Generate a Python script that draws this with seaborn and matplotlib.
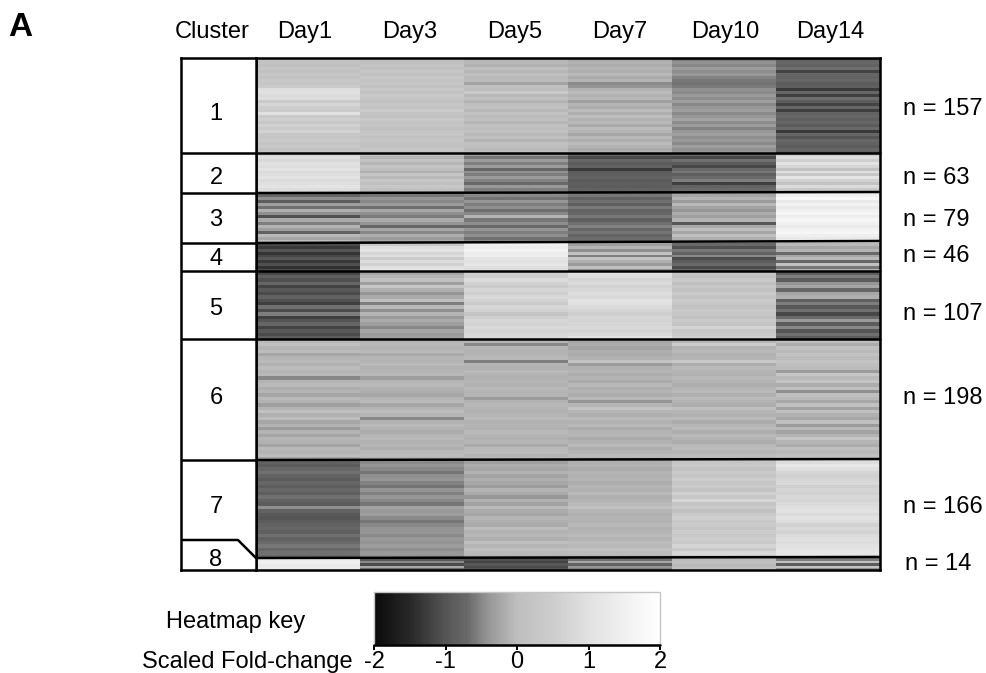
import numpy as np
import pandas as pd
import seaborn as sns
import matplotlib.pyplot as plt
from matplotlib.colors import LinearSegmentedColormap

days = ["Day1", "Day3", "Day5", "Day7", "Day10", "Day14"]
cluster_ids = ["1", "2", "3", "4", "5", "6", "7", "8"]
cluster_n = [157, 63, 79, 46, 107, 198, 166, 14]

# values, one list per day, top to bottom in each cluster
cluster1 = [
    [.10, .18, .05, .22, .10, .28, .15, .32, .22, .38, .92, .98, .85, .92, .42, .72, .50, .45, 1.0, .40, .55, .30, .58, .35, .62, .30, .25, .38, .20, .32, .15, .25],
    [.02, .10, .20, .05, .25, .12, .30, .18, .28, .10, .32, .15, .35, .22, .12, .30, .18, .38, .20, .10, .32, .16, .28, .08, .22, .30, .12, .24, .18, .10, .26, .14],
    [-.10, -.05, -.12, .02, -.08, .05, -.05, -.02, -.28, .05, .00, .35, -.05, .08, -.10, .02, .10, -.05, .12, -.02, .05, -.08, .10, .00, .14, -.06, .05, -.10, .10, .02, -.04, .08],
    [-.22, -.12, -.18, -.08, -.15, -.05, -.20, -.10, -.48, -.42, -.12, -.02, -.14, -.05, -.30, -.08, -.18, -.02, -.15, .00, -.12, -.05, -.20, -.02, -.10, -.22, -.06, -.16, -.02, -.12, -.20, -.08],
    [-.58, -.43, -.50, -.33, -.46, -.38, -.53, -.60, -.63, -.58, -.43, -.48, -.36, -.46, -.30, -.50, -.38, -.32, -.48, -.40, -.28, -.46, -.34, -.52, -.38, -.30, -.44, -.36, -.48, -.32, -.43, -.38],
    [-.85, -.72, -.80, -.66, -1.2, -.75, -.80, -.72, -.90, -.85, -1.3, -.75, -1.25, -.66, -.90, -1.2, -.75, -1.25, -.80, -.72, -.85, -.75, -.90, -.70, -1.3, -.75, -1.0, -.72, -.80, -.90, -.74, -.85],
]
cluster2 = [
    [.70, .95, .80, 1.0, .90, 1.05, .85, .95, 1.05, .85, .95, 1.1, .90, 1.0],
    [.05, -.10, .12, -.08, .20, .00, -.15, .22, -.05, .28, .05, .30, .10, .22],
    [-.40, -.60, -.35, -.55, -.33, -.75, -.43, -.57, -.35, -.53, -.70, -.37, -.55, -.45],
    [-.80, -1.1, -.75, -.90, -.80, -1.3, -.90, -.85, -.80, -.92, -.85, -.90, -.80, -.88],
    [-.70, -1.15, -.65, -.90, -1.15, -.70, -.60, -.85, -.70, -.55, -1.25, -.80, -.70, -.65],
    [.40, .90, .55, 1.05, .70, .15, .95, .30, 1.1, .60, .20, .85, .35, .55],
]
cluster3 = [
    [-.75, -.45, -.90, -.30, -.65, -.15, -.45, -1.05, -.20, -.55, -.10, -.30, -.80, -.05, -.25, .00],
    [-.60, -.40, -.50, -.33, -.67, -.25, -.45, -.57, -.20, -.40, -.75, -.25, -.50, -.17, -.35, -.25],
    [-.50, -.63, -.40, -.55, -.45, -.67, -.50, -.10, -.60, -.45, -.70, -.40, -.55, -.45, -.65, -.50],
    [-.60, -.80, -.65, -.85, -.58, -.80, -.72, -.60, -.85, -.65, -.52, -.75, -.62, -.78, -.68, -.60],
    [-.25, -.10, -.35, -.05, -.28, -.40, -.18, -.30, -.10, -.95, -.20, .00, -.25, .05, -.15, -.08],
    [1.5, 1.75, 1.3, 1.55, 1.25, 1.5, 1.65, 1.4, 1.7, 1.5, 1.3, 1.55, 1.7, 1.45, 1.25, 1.35],
]
cluster4 = [
    [-1.1, -1.3, -1.0, -1.35, -1.15, -.95, -1.3, -1.05, -1.4, -1.1],
    [.30, .90, 1.1, .70, .95, .45, .85, .60, 1.0, 1.25],
    [1.5, 1.35, 1.6, 1.4, 1.45, 1.1, 1.0, 1.2, .95, .90],
    [-.30, -.10, -.45, .10, -.55, .20, -.15, -.35, .05, -.45],
    [-.70, -1.05, -.60, -.80, -.50, -1.1, -.90, -.70, -1.1, -.75],
    [-.05, -.25, -.10, -.70, -.25, -.05, -.75, .10, -.60, -.10],
]
cluster5 = [
    [-1.15, -.85, -1.05, -.75, -1.2, -.95, -1.1, -.80, -1.05, -1.25, -.65, -1.1, -.55, -1.25, -1.0, -.75, -1.2, -.95, -1.1, -.90],
    [-.25, -.10, .10, -.30, .30, -.15, -.40, -.20, .05, -.55, -.05, -.45, -.10, -.35, -.20, -.30, -.50, -.25, -.35, -.30],
    [.55, .50, .85, .60, .45, .70, .55, .80, .62, .48, .72, .60, .20, .55, .75, .65, .80, .70, .78, .85],
    [1.0, .90, .70, .85, .65, .75, .90, .80, 1.05, 1.0, .85, .70, .55, .75, .65, .72, .80, .70, .85, 1.1],
    [.25, .10, .35, .05, .30, .15, .40, .20, .45, .30, .15, .35, .25, .10, .40, .20, .65, .30, .45, .60],
    [-.85, -.55, -.90, -.40, -.25, -.75, -.25, -.15, -.85, -.55, -.95, -.65, -1.15, -.70, -.35, -.90, -.50, -1.0, -.65, -.90],
]
cluster6 = [
    [-.05, .02, -.10, -.02, -.25, -.08, -.04, -.12, -.02, -.08, -.05, -.50, -.10, -.04, -.16, -.08, -.24, -.05, -.12, -.30, -.10, .05, -.14, -.02, -.25, -.12, -.35, -.10, -.24, -.08, -.14, -.26, -.05, -.10, -.02, -.25],
    [-.08, -.06, -.10, -.05, -.20, -.08, -.10, -.06, -.12, -.08, -.05, -.32, -.08, -.05, -.12, -.16, -.22, -.08, -.05, -.25, -.10, -.02, -.08, -.50, -.12, -.06, -.10, -.18, -.08, -.05, -.12, -.08, -.16, -.06, -.02, -.12],
    [-.10, -.50, -.08, -.12, -.10, -.06, -.55, -.08, -.12, -.06, -.10, -.14, -.08, -.12, -.06, -.10, -.08, -.35, -.12, -.06, -.10, -.14, -.08, -.04, -.11, -.08, -.14, -.06, -.10, -.12, -.08, -.20, -.06, -.02, -.10, -.06],
    [-.24, -.18, -.26, -.16, -.20, -.14, .20, -.35, -.14, -.08, -.18, -.10, -.20, -.06, -.16, -.10, -.18, -.06, -.40, -.08, .18, -.08, -.16, -.04, -.12, -.06, -.18, -.10, -.08, -.20, -.12, -.04, -.16, -.08, -.02, -.08],
    [-.08, .45, -.10, -.06, -.14, -.10, .35, -.16, -.06, -.08, -.14, -.06, -.10, -.16, -.08, -.06, -.14, -.04, -.10, -.16, .02, -.08, -.12, -.04, -.18, -.08, -.04, -.16, -.06, -.10, -.18, -.06, -.02, -.08, -.01, -.06],
    [.00, -.18, .10, -.06, .15, -.02, .20, .04, -.02, -.35, .25, -.06, .18, -.18, .06, -.45, .06, -.05, -.22, .10, -.28, .06, -.14, -.22, .06, -.35, -.05, -.28, -.10, .28, -.08, -.18, .06, -.05, .10, .00],
]
cluster7 = [
    [-.80, -.90, -.75, -.65, -.80, -.92, -.75, -.88, -.72, -.85, -.65, -.80, -.90, -.45, -.80, -.95, -1.0, -.90, -.80, -.75, -.85, -.65, -.80, -.70, -.60, -.75, -.65, -.70],
    [-.47, -.42, -.50, -.62, -.44, -.40, -.52, -.64, -.42, -.54, -.40, -.50, -.62, -.28, -.37, -.32, -.47, -.60, -.50, -.42, -.40, -.47, -.37, -.42, -.34, -.44, -.37, -.42],
    [-.30, -.18, -.25, -.12, -.28, -.15, -.22, -.35, -.10, -.20, -.38, -.12, -.28, -.05, -.18, -.25, -.08, -.15, -.20, -.02, -.12, -.05, -.15, .00, -.08, .05, -.05, -.10],
    [-.15, -.12, -.18, -.08, -.14, -.10, -.16, -.08, -.12, -.06, -.15, -.10, -.05, .08, -.08, -.14, -.10, -.12, -.06, -.14, -.08, -.04, -.10, -.02, -.06, .12, -.02, -.10],
    [.25, .35, .15, .40, .22, .50, .28, .42, .20, .60, .30, .72, .20, .45, .10, .35, .55, .30, .42, .25, .45, .32, .50, .38, .70, .35, .78, .30],
    [.90, 1.2, .95, .70, .60, .72, .80, .55, .70, .62, .78, .68, .85, .95, 1.0, .85, 1.05, .90, .60, .80, .65, .85, .95, .90, 1.0, 1.1, 1.2, .80],
]
cluster8 = [
    [1.35, 1.45, 1.3, 1.35],
    [-.95, -.5, -1.1, -.25, -.7],
    [-1.05, -1.2, -.95, -1.1, -1.0],
    [-.65, -.25, -.8, -.4, -.55],
    [-.02, .05, -.05, .02],
    [-.55, .10, -.9, .20, -.45],
]
all_clusters = [cluster1, cluster2, cluster3, cluster4, cluster5, cluster6, cluster7, cluster8]

# measured colours of the key
key_values = [-2, -1.5, -1, -0.7, -0.4, 0, 0.5, 1, 1.5, 2]
key_grays = [10, 40, 85, 105, 150, 190, 205, 225, 240, 255]

# ---- layout in pixels of the 986x673 picture
W, H = 986, 673
cluster_rows = [95, 40, 50, 28, 68, 121, 98, 12]
day_ticks = [0.47, 1.48, 2.49, 3.5, 4.51, 5.52]
n_y = [109, 178, 220, 256, 314, 398, 507, 564]
n_x = [903, 903, 903, 903, 903, 903, 903, 905]
id_y = [114, 178, 220, 259, 309, 398, 507, 560]


def px_axes(x0, y0, x1, y1):
    return fig.add_axes([x0 / W, 1 - y1 / H, (x1 - x0) / W, (y1 - y0) / H])


def px_text(x, y, s, **kw):
    kw.setdefault("va", "center")
    fig.text(x / W, 1 - y / H, s, fontsize=kw.pop("fontsize", 17), **kw)


def expand(vals, rows):
    # stretch the readings of one cluster over its rows
    vals = np.array(vals)
    return vals[np.arange(rows) * len(vals) // rows]


sns.set_theme(style="white")
plt.rcParams["font.family"] = ["Liberation Sans", "DejaVu Sans"]
plt.rcParams["text.color"] = "black"
plt.rcParams["xtick.color"] = "black"

stops = [(v + 2) / 4 for v in key_values]
cmap = LinearSegmentedColormap.from_list(
    "key", [(s, (g / 255, g / 255, g / 255)) for s, g in zip(stops, key_grays)]
)

columns = {}
for d, day in enumerate(days):
    columns[day] = np.concatenate(
        [expand(c[d], r) for c, r in zip(all_clusters, cluster_rows)]
    )
df = pd.DataFrame(columns)

fig = plt.figure(figsize=(W / 100, H / 100), dpi=100)
ax = px_axes(256, 58, 880, 570)
ax_key = px_axes(374, 592, 660, 645)
ax_id = px_axes(181, 58, 256, 570)

sns.heatmap(
    df,
    ax=ax,
    cmap=cmap,
    vmin=-2,
    vmax=2,
    cbar=True,
    cbar_ax=ax_key,
    cbar_kws={"orientation": "horizontal", "ticks": [-2, -1, 0, 1, 2]},
    yticklabels=False,
)
ax.xaxis.tick_top()
ax.set_xticks(day_ticks)
ax.set_xticklabels(days)
ax.tick_params(axis="x", length=0, pad=11, labelsize=17, rotation=0)
ax.set_ylabel("")

# lines between clusters, they lean a little in the original
edges = np.cumsum(cluster_rows)[:-1]
lean = [0, -1, -2, 0, 0, -1, -1]
for e, l in zip(edges, lean):
    ax.plot([0, 6], [e, e + l], color="black", lw=1.8, clip_on=False)
for s in ax.spines.values():
    s.set_visible(True)
    s.set_color("black")
    s.set_linewidth(1.8)

# cluster column
ax_id.set_xlim(0, 75)
ax_id.set_ylim(512, 0)
ax_id.set_xticks([])
ax_id.set_yticks([])
for s in ax_id.spines.values():
    s.set_color("black")
    s.set_linewidth(1.8)
for e in edges[:-1]:
    ax_id.plot([0, 75], [e, e], color="black", lw=1.8)
ax_id.plot([0, 57, 75], [482, 482, 500], color="black", lw=1.8)

for i in range(len(cluster_ids)):
    px_text(216, id_y[i], cluster_ids[i], ha="center")
    px_text(n_x[i], n_y[i], f"n = {cluster_n[i]}", ha="left")

px_text(212, 32, "Cluster", ha="center")
px_text(8, 27, "A", fontsize=24, fontweight="bold", ha="left")
px_text(166, 622, "Heatmap key", ha="left")
px_text(142, 662, "Scaled Fold-change", ha="left")

# key below the map
cbar = ax.collections[0].colorbar
cbar.outline.set_edgecolor("#c4c4c4")
cbar.outline.set_linewidth(1)
ax_key.axhline(0, color="black", lw=1.8, clip_on=False, zorder=10)
ax_key.tick_params(axis="x", length=3.5, width=1.4, pad=1, labelsize=17, color="black", bottom=True)
ax_key.set_xticklabels(["-2", "-1", "0", "1", "2"])

fig.savefig("out.png", dpi=100)
plt.close(fig)
